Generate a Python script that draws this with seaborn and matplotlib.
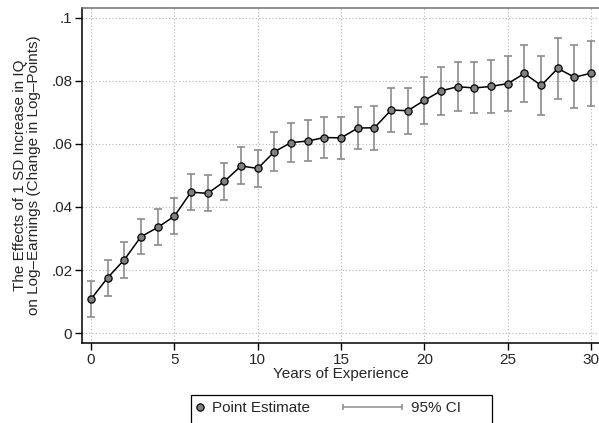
import numpy as np
import pandas as pd
import matplotlib
matplotlib.use("Agg")
import matplotlib.pyplot as plt
import seaborn as sns
from matplotlib.lines import Line2D
from matplotlib.patches import Rectangle
from matplotlib.legend_handler import HandlerLine2D, HandlerBase

# Estimates
years = list(range(31))
estimate = [0.0108, 0.0176, 0.0233, 0.0306, 0.0335, 0.0371, 0.0447, 0.0443, 0.0481, 0.0530,
            0.0522, 0.0575, 0.0604, 0.0609, 0.0620, 0.0619, 0.0650, 0.0651, 0.0707, 0.0705,
            0.0738, 0.0768, 0.0781, 0.0777, 0.0782, 0.0791, 0.0823, 0.0785, 0.0839, 0.0811,
            0.0824]
ci_upper = [0.0164, 0.0232, 0.0288, 0.0363, 0.0392, 0.0429, 0.0505, 0.0502, 0.0539, 0.0589,
            0.0582, 0.0636, 0.0667, 0.0674, 0.0685, 0.0685, 0.0717, 0.0720, 0.0777, 0.0777,
            0.0812, 0.0842, 0.0859, 0.0859, 0.0865, 0.0877, 0.0914, 0.0879, 0.0936, 0.0914,
            0.0927]
ci_lower = [0.0051, 0.0119, 0.0176, 0.0250, 0.0280, 0.0314, 0.0390, 0.0386, 0.0423, 0.0472,
            0.0463, 0.0515, 0.0543, 0.0547, 0.0556, 0.0551, 0.0583, 0.0581, 0.0636, 0.0632,
            0.0662, 0.0690, 0.0703, 0.0697, 0.0698, 0.0705, 0.0732, 0.0691, 0.0743, 0.0712,
            0.0720]
yticks = [0, 0.02, 0.04, 0.06, 0.08, 0.1]
ytick_labels = ["0", ".02", ".04", ".06", ".08", ".1"]

df = pd.DataFrame({"year": years, "est": estimate, "lo": ci_lower, "hi": ci_upper})

sns.set_style("white")
plt.rcParams["font.family"] = ["Liberation Sans", "DejaVu Sans"]
plt.rcParams["font.size"] = 11

ci_color = "#8c8c8c"
marker_fill = "#808080"
W, H = 599, 423


# legend key for the CI: a horizontal bar with caps, drawn to the left of the label
class CIHandler(HandlerBase):
    def create_artists(self, legend, orig_handle, xdescent, ydescent, width, height, fontsize, trans):
        y = height / 2 - ydescent
        x1 = width - xdescent
        x0 = x1 - 42.5
        bar = Line2D([x0, x1], [y, y], color=ci_color, linewidth=1.1)
        caps = Line2D([x0, x1], [y, y], linestyle="none", marker="|", markersize=4,
                      markeredgewidth=1.1, color=ci_color)
        bar.set_transform(trans)
        caps.set_transform(trans)
        return [bar, caps]


fig = plt.figure(figsize=(W / 100, H / 100), dpi=100)
ax = fig.add_axes([82 / W, 1 - 343 / H, (W - 82) / W, (343 - 7.5) / H])

ax.errorbar(df["year"], df["est"],
            yerr=[df["est"] - df["lo"], df["hi"] - df["est"]],
            fmt="none", ecolor=ci_color, elinewidth=1.2, capsize=2.6, capthick=1.2, zorder=2)
sns.lineplot(data=df, x="year", y="est", ax=ax, color="black", linewidth=1.1,
             marker="o", markersize=5.2, markerfacecolor=marker_fill,
             markeredgecolor="black", markeredgewidth=0.9, zorder=3)

ax.set_xlim(-0.54, 30.47)
ax.set_ylim(-0.0031, 0.1032)
ax.set_xticks(range(0, 31, 5))
ax.set_yticks(yticks)
ax.set_yticklabels(ytick_labels)
ax.grid(True, linestyle=(0, (1, 2)), color="#b4b4b4", linewidth=0.8)

ax.tick_params(axis="both", direction="out", length=5, width=1, color="black",
               labelsize=11, left=True, bottom=True, pad=2)
for side in ["left", "bottom"]:
    ax.spines[side].set_color("black")
    ax.spines[side].set_linewidth(1.1)
ax.spines["top"].set_color("#707070")
ax.spines["top"].set_linewidth(1.1)
ax.spines["right"].set_visible(False)

ax.set_xlabel("Years of Experience", fontsize=11, labelpad=0)
ax.set_ylabel("The Effects of 1 SD Increase in IQ\non Log\u2013Earnings (Change in Log\u2013Points)",
              fontsize=11, labelpad=7.5, linespacing=1.0)

h_point = Line2D([0], [0], linestyle="none", marker="o", markersize=5.2,
                 markerfacecolor=marker_fill, markeredgecolor="black", markeredgewidth=0.9)
h_ci = Line2D([0, 1], [0, 0], color=ci_color)
fs_px = 11 * 100 / 72
fig.legend(handles=[h_point, h_ci], labels=["Point Estimate", "95% CI"],
           handler_map={h_point: HandlerLine2D(numpoints=1), h_ci: CIHandler()},
           loc="upper left", bbox_to_anchor=(191 / W, 1 - 395 / H), ncol=2,
           frameon=False, fontsize=11, handlelength=6 / fs_px, columnspacing=86 / fs_px,
           handletextpad=9 / fs_px, borderpad=6 / fs_px, borderaxespad=0)
# the legend box in the original is wider than its contents
fig.patches.append(Rectangle((191 / W, -0.02), (492 - 191) / W, (423 - 395) / H + 0.02,
                             transform=fig.transFigure, fill=False, edgecolor="black",
                             linewidth=0.9))

fig.savefig("out.png", dpi=100)
